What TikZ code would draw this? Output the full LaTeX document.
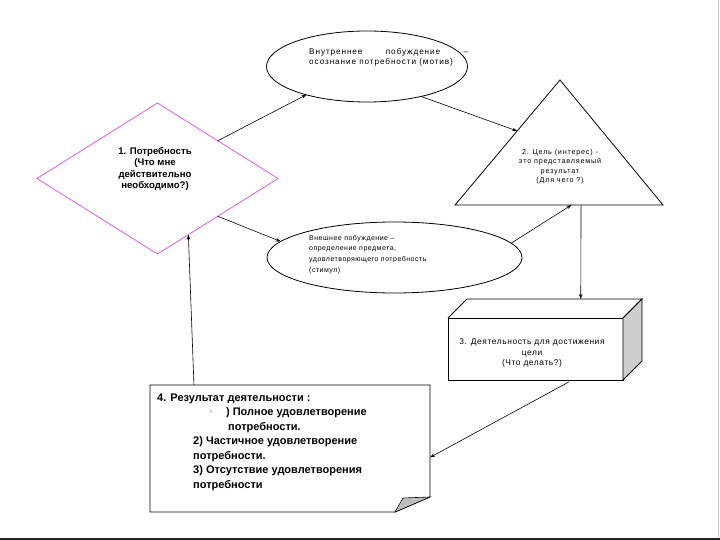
\documentclass[tikz,border=0pt]{standalone}
\usepackage{fontspec}
\setmainfont{Liberation Sans}
\newfontfamily\widesans{Liberation Sans}[LetterSpace=7]
\newfontfamily\widersans{Liberation Sans}[LetterSpace=11]
\usetikzlibrary{shapes.geometric,arrows.meta,calc}

\begin{document}
\begin{tikzpicture}[x=1pt,y=-1pt,
  conn/.style={draw=black,line width=0.6pt,-{Stealth[length=5pt,width=3.5pt]}},
  oval/.style={ellipse,draw=black,line width=0.8pt,inner sep=0pt,outer sep=0pt},
  smalltxt/.style={font=\widesans\fontsize{7.5}{10.5}\selectfont,inner sep=0pt},
  listtxt/.style={font=\bfseries\fontsize{11}{14.5}\selectfont,inner sep=0pt,align=left}]
% 720 x 540, slide frame
\useasboundingbox (0,0) rectangle (720,540);
\path[draw={rgb,255:red,40;green,40;blue,40},line width=1.5pt] (0,539) -- (720,539);
\path[draw={rgb,255:red,195;green,195;blue,195},line width=1pt] (718.5,0) -- (718.5,537);

% need (diamond)
\node[diamond,draw={rgb,255:red,225;green,90;blue,225},line width=0.8pt,minimum width=241,minimum height=151,inner sep=0pt,outer sep=0pt] (need) at (157.5,178.5) {};
\node[font=\bfseries\fontsize{9.6}{11.5}\selectfont,align=center,inner sep=0pt] (needtxt) at (155,169) {1. Потребность\\(Что мне\\действительно\\необходимо?)};

% inner motive
\node[oval,minimum width=201,minimum height=71] (motiv) at (367,66.5) {};
\node[smalltxt,anchor=north west,align=left,font=\widersans\fontsize{8.2}{10}\selectfont] (motivtxt) at (309,48) {\hbox to 159pt{Внутреннее\hfill побуждение\hfill –}\\осознание потребности (мотив)};

% outer stimulus
\node[oval,minimum width=255,minimum height=71] (stim) at (394.5,257.5) {};
\node[smalltxt,anchor=north west,align=left,font=\widesans\fontsize{7}{10.6}\selectfont] (stimtxt) at (309,235) {Внешнее побуждение –\\определение предмета,\\удовлетворяющего потребность\\(стимул)};

% goal (triangle)
\coordinate (apex) at (560,80);
\coordinate (baseL) at (455,205);
\coordinate (baseR) at (663,205);
\path[draw=black,line width=0.8pt] (apex) -- (baseL) -- (baseR) -- cycle;
\node[smalltxt,align=center,font=\widersans\fontsize{7.2}{9.3}\selectfont] (goal) at (560,166.5) {2. Цель (интерес) -\\это представляемый\\результат\\(Для чего ?)};

% activity (3d box)
\node[draw=black,line width=0.8pt,fill=white,minimum width=175,minimum height=62,inner sep=0pt,outer sep=0pt] (act) at (535.5,349) {};
\coordinate (actBL) at ($(act.north west)+(19,-19)$);
\coordinate (actBR) at ($(act.north east)+(19,-19)$);
\path[draw=black,line width=0.8pt] (act.north west) -- (actBL) -- (actBR) -- (act.north east);
\path[draw=black,line width=0.8pt,fill={rgb,255:red,205;green,205;blue,205}] (act.north east) -- (actBR) -- ($(act.south east)+(19,-19)$) -- (act.south east) -- cycle;
\node[smalltxt,align=center,font=\widesans\fontsize{8.4}{10.5}\selectfont] (acttxt) at (532,353) {3. Деятельность для достижения\\цели\\(Что делать?)};

% result (folded note)
\node[minimum width=280,minimum height=127,inner sep=0pt,outer sep=0pt] (res) at (290,448.5) {};
\path[draw=black,line width=0.8pt,fill=white] (res.north west) -- (res.north east) -- ($(res.south east)+(0,-15)$) -- ($(res.south east)+(-35,0)$) -- (res.south west) -- cycle;
\path[draw=black,line width=0.6pt,fill={rgb,255:red,190;green,190;blue,190}] ($(res.south east)+(-35,0)$) -- ($(res.south east)+(-27,-14)$) -- ($(res.south east)+(0,-15)$) -- cycle;
\node[listtxt,anchor=north west] (restxt) at (157,393.5) {4. Результат деятельности :\\
\hspace*{52pt}{\color{pink}\mdseries•}\hspace*{13pt}) Полное удовлетворение\\
\hspace*{71pt}потребности.\\
\hspace*{36pt}2) Частичное удовлетворение\\
\hspace*{36pt}потребности.\\
\hspace*{36pt}3) Отсутствие удовлетворения\\
\hspace*{36pt}потребности};

% connectors
\draw[conn] (need.north east) -- (motiv.205);
\draw[conn] (motiv.331) -- ($(apex)!0.408!(baseL)$);
\draw[conn] (need.south east) -- (stim.172);
\draw[conn] (stim.7) -- ($(baseL)!0.56!(baseR)$);
\draw[conn] ($(baseL)!0.606!(baseR)$) -- ($(actBL)!0.65!(actBR)$);
\draw[conn] ($(act.south west)!0.69!(act.south east)+(0,2)$) -- ($(res.north east)!0.57!(res.south east)$);
\draw[conn] ($(res.north west)!0.157!(res.north east)$) -- ($(need.south)!0.256!(need.east)$);
\end{tikzpicture}
\end{document}
